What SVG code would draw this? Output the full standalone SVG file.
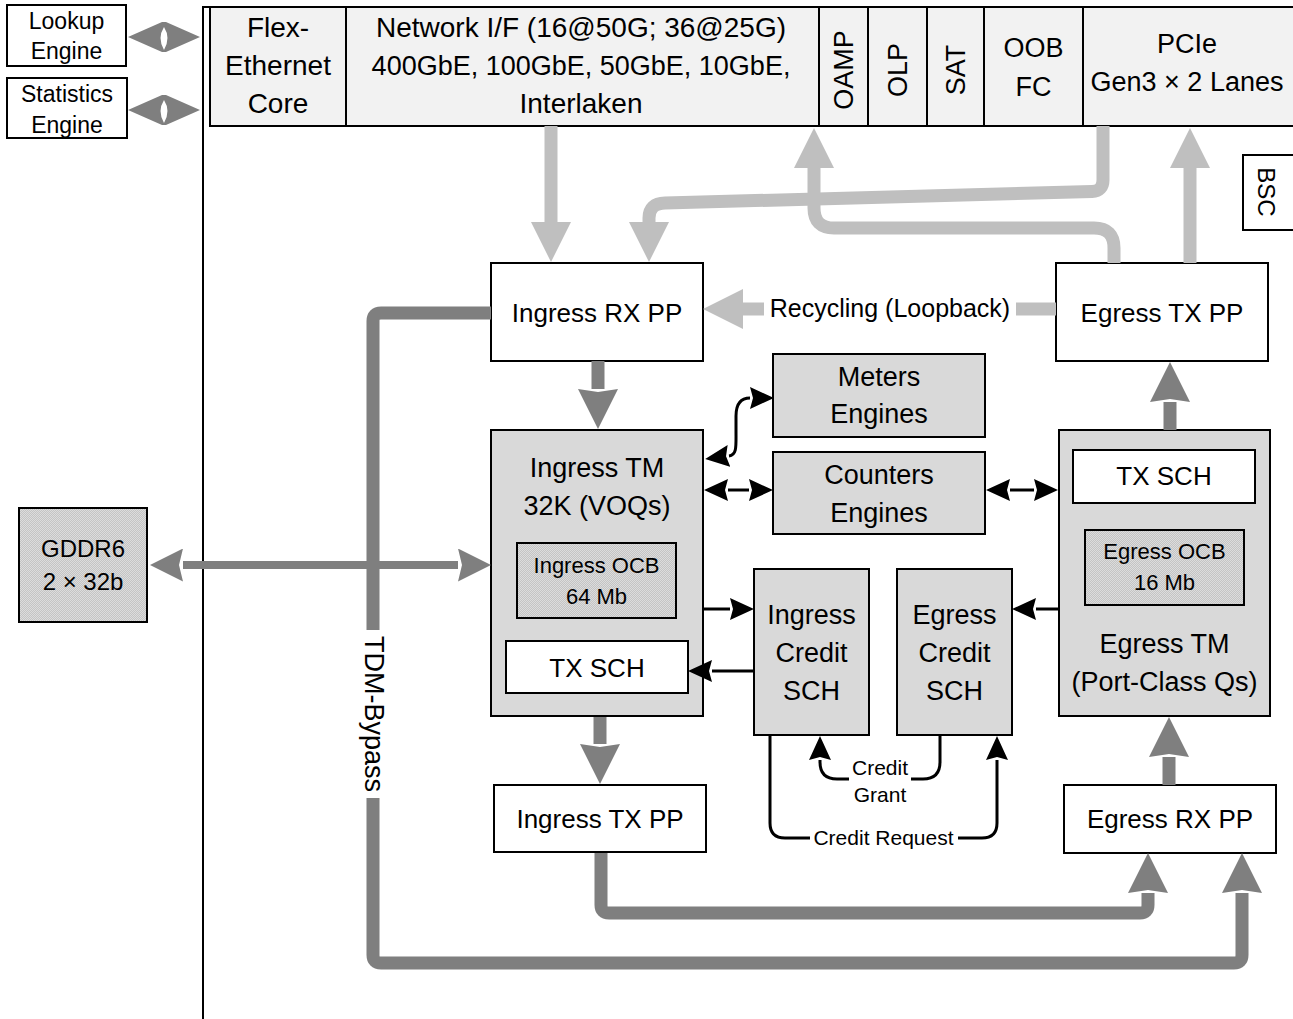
<svg xmlns="http://www.w3.org/2000/svg" width="1293" height="1019" viewBox="0 0 1293 1019">
<defs>
<style>
text{font-family:"Liberation Sans",Arial,sans-serif;fill:#000;text-anchor:middle}
.t28{font-size:28px}
.t27{font-size:27px}
.t26{font-size:26px}
.t25{font-size:25px}
.t24{font-size:24px}
.t23{font-size:23px}
.t22{font-size:22px}
.t21{font-size:21px}
.bw{fill:#fff;stroke:#000;stroke-width:2}
.bg{fill:#d9d9d9;stroke:#000;stroke-width:2}
.bt{fill:#f2f2f2;stroke:#000;stroke-width:2}
.bd{fill:url(#dots);stroke:#000;stroke-width:2}
.lg{fill:none;stroke:#bfbfbf;stroke-width:13}
.dg{fill:none;stroke:#7f7f7f;stroke-width:13}
.bk{fill:none;stroke:#000;stroke-width:3}
</style>
<pattern id="dots" width="2" height="2" patternUnits="userSpaceOnUse"><rect width="2" height="2" fill="#c4c4c4"/><rect width="1" height="1" fill="#dcdcdc"/><rect x="1" y="1" width="1" height="1" fill="#dcdcdc"/></pattern>
<marker id="hl" markerUnits="userSpaceOnUse" markerWidth="40" markerHeight="40" viewBox="0 0 40 40" refX="0" refY="20" orient="auto"><path d="M0,0 L40,20 L0,40 Z" fill="#bfbfbf"/></marker>
<marker id="hd" markerUnits="userSpaceOnUse" markerWidth="40" markerHeight="40" viewBox="0 0 40 40" refX="0" refY="20" orient="auto"><path d="M0,0 L40,20 L0,40 L3,20 Z" fill="#7f7f7f"/></marker>
<marker id="hg" markerUnits="userSpaceOnUse" markerWidth="33" markerHeight="33" viewBox="0 0 33 33" refX="0" refY="16.5" orient="auto-start-reverse"><path d="M0,0 L33,16.5 L0,33 L4,16.5 Z" fill="#7f7f7f"/></marker>
<marker id="hb" markerUnits="userSpaceOnUse" markerWidth="24" markerHeight="22" viewBox="0 0 24 22" refX="0" refY="11" orient="auto-start-reverse"><path d="M0,0 L24,11 L0,22 L3,11 Z" fill="#000"/></marker>
</defs>

<path d="M203,1019 V7 H1293" fill="none" stroke="#000" stroke-width="2"/>

<g id="lookup-engine">
<rect class="bw" x="7" y="5" width="119" height="61"/>
<text class="t23" x="66.5" y="29">Lookup</text>
<text class="t23" x="66.5" y="59">Engine</text>
</g>
<g id="statistics-engine">
<rect class="bw" x="7" y="78" width="120" height="60"/>
<text class="t23" x="67" y="102">Statistics</text>
<text class="t23" x="67" y="133">Engine</text>
</g>

<g id="top-bar">
<rect class="bt" x="210" y="7" width="1090" height="119"/>
<path d="M346,7 V126 M819,7 V126 M868,7 V126 M927,7 V126 M984,7 V126 M1083,7 V126" stroke="#000" stroke-width="2"/>
</g>
<g id="flex-ethernet-core">
<text class="t28" x="278" y="37">Flex-</text>
<text class="t28" x="278" y="75">Ethernet</text>
<text class="t28" x="278" y="113">Core</text>
</g>
<g id="network-if">
<text class="t28" x="581" y="37">Network I/F (16@50G; 36@25G)</text>
<text class="t27" x="581" y="75">400GbE, 100GbE, 50GbE, 10GbE,</text>
<text class="t28" x="581" y="113">Interlaken</text>
</g>
<g id="oamp"><text class="t27" transform="translate(843.5,70) rotate(-90)" y="9.5">OAMP</text></g>
<g id="olp"><text class="t27" transform="translate(897.5,70) rotate(-90)" y="9.5">OLP</text></g>
<g id="sat"><text class="t27" transform="translate(955.5,70) rotate(-90)" y="9.5">SAT</text></g>
<g id="oob-fc">
<text class="t27" x="1033.5" y="57">OOB</text>
<text class="t27" x="1033.5" y="96">FC</text>
</g>
<g id="pcie">
<text class="t27" x="1187" y="53">PCIe</text>
<text class="t27" x="1187" y="91">Gen3 × 2 Lanes</text>
</g>
<g id="bsc">
<rect class="bw" x="1243" y="155" width="60" height="75"/>
<text class="t24" transform="translate(1266,192) rotate(90)" y="8.5">BSC</text>
</g>

<g id="ingress-rx-pp">
<rect class="bw" x="491" y="263" width="212" height="98"/>
<text class="t26" x="597" y="322">Ingress RX PP</text>
</g>
<g id="egress-tx-pp">
<rect class="bw" x="1056" y="263" width="212" height="98"/>
<text class="t26" x="1162" y="322">Egress TX PP</text>
</g>
<g id="meters-engines">
<rect class="bg" x="773" y="354" width="212" height="83"/>
<text class="t27" x="879" y="386">Meters</text>
<text class="t27" x="879" y="423">Engines</text>
</g>
<g id="counters-engines">
<rect class="bg" x="773" y="452" width="212" height="82"/>
<text class="t27" x="879" y="484">Counters</text>
<text class="t27" x="879" y="522">Engines</text>
</g>
<g id="ingress-tm">
<rect class="bg" x="491" y="430" width="212" height="286"/>
<text class="t27" x="597" y="477">Ingress TM</text>
<text class="t27" x="597" y="515">32K (VOQs)</text>
</g>
<g id="ingress-ocb">
<rect class="bd" x="517" y="543" width="159" height="75"/>
<text class="t22" x="596.5" y="573">Ingress OCB</text>
<text class="t22" x="596.5" y="604">64 Mb</text>
</g>
<g id="ingress-tx-sch">
<rect class="bw" x="506" y="641" width="182" height="52"/>
<text class="t26" x="597" y="677">TX SCH</text>
</g>
<g id="ingress-tx-pp">
<rect class="bw" x="494" y="785" width="212" height="67"/>
<text class="t26" x="600" y="828">Ingress TX PP</text>
</g>
<g id="ingress-credit-sch">
<rect class="bg" x="754" y="569" width="115" height="166"/>
<text class="t27" x="811.5" y="624">Ingress</text>
<text class="t27" x="811.5" y="662">Credit</text>
<text class="t27" x="811.5" y="700">SCH</text>
</g>
<g id="egress-credit-sch">
<rect class="bg" x="897" y="569" width="115" height="166"/>
<text class="t27" x="954.5" y="624">Egress</text>
<text class="t27" x="954.5" y="662">Credit</text>
<text class="t27" x="954.5" y="700">SCH</text>
</g>
<g id="egress-tm">
<rect class="bg" x="1059" y="430" width="211" height="286"/>
<text class="t27" x="1164.5" y="653">Egress TM</text>
<text class="t27" x="1164.5" y="691">(Port-Class Qs)</text>
</g>
<g id="egress-tx-sch">
<rect class="bw" x="1073" y="450" width="182" height="53"/>
<text class="t26" x="1164" y="485">TX SCH</text>
</g>
<g id="egress-ocb">
<rect class="bd" x="1085" y="530" width="159" height="75"/>
<text class="t22" x="1164.5" y="559">Egress OCB</text>
<text class="t22" x="1164.5" y="590">16 Mb</text>
</g>
<g id="egress-rx-pp">
<rect class="bw" x="1064" y="785" width="212" height="68"/>
<text class="t26" x="1170" y="828">Egress RX PP</text>
</g>
<g id="gddr6">
<rect class="bd" x="19" y="508" width="128" height="114"/>
<text class="t24" x="83" y="557">GDDR6</text>
<text class="t24" x="83" y="590">2 × 32b</text>
</g>

<g id="connectors">
<path d="M128,37 L162,22 L166,22 L200,37 L166,52 L162,52 Z M128,110 L162,95 L166,95 L200,110 L166,125 L162,125 Z" fill="#7f7f7f"/>
<path d="M164,27 Q171,38 164,50 Q157,38 164,27 Z M164,100 Q171,111 164,123 Q157,111 164,100 Z" fill="#fff"/>

<path class="lg" d="M551,126 V222" marker-end="url(#hl)"/>
<path class="lg" d="M1103,126 V180 Q1103,191 1092,191.5 L665,203 Q649,203.5 649,218 V222" marker-end="url(#hl)"/>
<path class="lg" d="M1114,263 V248 Q1114,228 1094,228 H834 Q814,228 814,208 V168" marker-end="url(#hl)"/>
<path class="lg" d="M1190,263 V168" marker-end="url(#hl)"/>
<path class="lg" d="M1056,309 H743" marker-end="url(#hl)"/>
<rect x="764" y="292" width="252" height="32" fill="#fff"/>
<text class="t25" x="890" y="317">Recycling (Loopback)</text>

<path class="dg" d="M598,361 V389" marker-end="url(#hd)"/>
<path class="dg" d="M600,717 V744" marker-end="url(#hd)"/>
<path class="dg" d="M1169,785 V757" marker-end="url(#hd)"/>
<path class="dg" d="M1170,430 V402" marker-end="url(#hd)"/>
<path class="dg" d="M601,853 V905 Q601,913 609,913 H1140 Q1148,913 1148,905 V893" marker-end="url(#hd)"/>
<path class="dg" d="M491,313 H381 Q373,313 373,321 V955 Q373,963 381,963 H1234 Q1242,963 1242,955 V893" marker-end="url(#hd)"/>
<rect x="361" y="630" width="26" height="168" fill="#fff"/>
<text class="t27" transform="translate(374,714) rotate(90)" y="9">TDM-Bypass</text>
<path d="M183,565 H458" fill="none" stroke="#7f7f7f" stroke-width="8" marker-start="url(#hg)" marker-end="url(#hg)"/>

<path class="bk" d="M729,456 C737,455 736,446 736,432 V416 C736,404 741,398 750,398" marker-start="url(#hb)" marker-end="url(#hb)"/>
<path class="bk" d="M728,490 H749" marker-start="url(#hb)" marker-end="url(#hb)"/>
<path class="bk" d="M1010,490 H1034" marker-start="url(#hb)" marker-end="url(#hb)"/>
<path class="bk" d="M703,609 H730" marker-end="url(#hb)"/>
<path class="bk" d="M754,671 H712" marker-end="url(#hb)"/>
<path class="bk" d="M1058,609 H1036" marker-end="url(#hb)"/>
<path class="bk" d="M940,735 V762 Q940,779 923,779 H837 Q820,779 820,762 V760" marker-end="url(#hb)"/>
<rect x="849" y="756" width="62" height="52" fill="#fff"/>
<text class="t21" x="880" y="775">Credit</text>
<text class="t21" x="880" y="802">Grant</text>
<path class="bk" d="M770,735 V823 Q770,838 785,838 H982 Q997,838 997,823 V760" marker-end="url(#hb)"/>
<rect x="810" y="826" width="148" height="24" fill="#fff"/>
<text class="t21" x="883.5" y="845">Credit Request</text>
</g>
</svg>
